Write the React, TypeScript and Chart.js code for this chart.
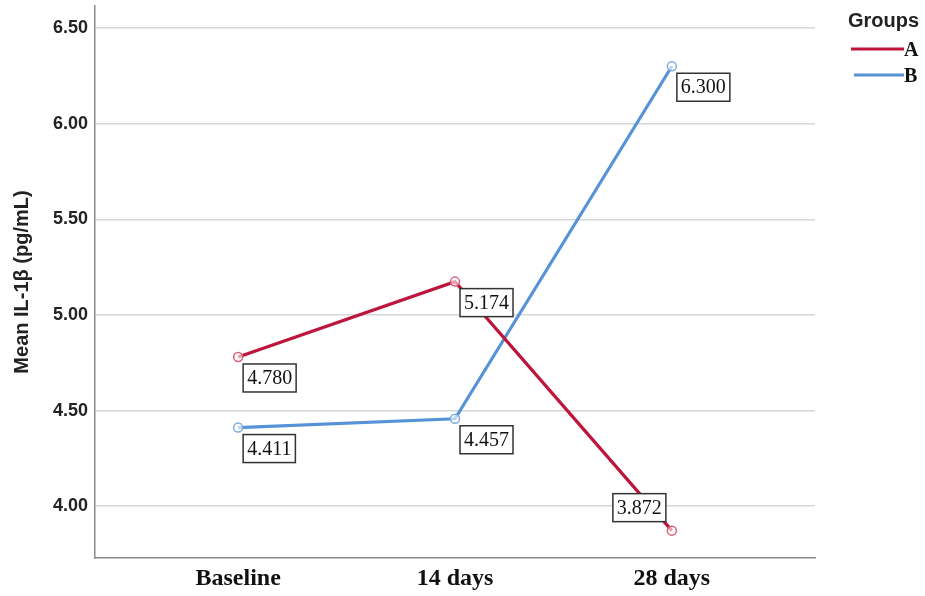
import React, { useEffect, useRef } from "react";
import { Chart, registerables } from "chart.js";

Chart.register(...registerables);

const categories = ["Baseline", "14 days", "28 days"];
const groupA = [4.78, 5.174, 3.872];
const groupB = [4.411, 4.457, 6.3];
const yTicks = [4.0, 4.5, 5.0, 5.5, 6.0, 6.5];
const seriesNames = ["A", "B"];
const labelPlaceA = ["br", "br", "tl"];
const labelPlaceB = ["br", "br", "br"];

const RED = "#BE153C";
const BLUE = "#5592D6";

const dataLabelPlugin = {
  id: "dataLabels",
  afterDatasetsDraw(chart: any) {
    const ctx = chart.ctx;
    ctx.save();
    ctx.font = "20px 'Liberation Serif', 'Times New Roman', serif";
    ctx.textBaseline = "middle";
    ctx.textAlign = "center";
    chart.data.datasets.forEach((ds: any, di: number) => {
      const meta = chart.getDatasetMeta(di);
      meta.data.forEach((pt: any, i: number) => {
        const txt = Number(ds.rawValues[i]).toFixed(3);
        const w = ctx.measureText(txt).width + 8;
        const h = 28;
        const place = ds.labelPlace[i];
        let left: number, top: number;
        if (place === "tl") {
          left = pt.x - 6 - w;
          top = pt.y - 9 - h;
        } else {
          left = pt.x + 5;
          top = pt.y + 7;
        }
        ctx.fillStyle = "#ffffff";
        ctx.fillRect(left, top, w, h);
        ctx.strokeStyle = "#333333";
        ctx.lineWidth = 1.5;
        ctx.strokeRect(left, top, w, h);
        ctx.fillStyle = "#111111";
        ctx.fillText(txt, left + w / 2, top + h / 2 + 1);
      });
    });
    ctx.restore();
  },
};

const legendPlugin = {
  id: "customLegend",
  afterDraw(chart: any) {
    const ctx = chart.ctx;
    ctx.save();
    ctx.fillStyle = "#222222";
    ctx.textBaseline = "alphabetic";
    ctx.textAlign = "left";
    ctx.font = "bold 20px 'Liberation Sans', Arial, sans-serif";
    ctx.fillText("Groups", 848, 27);
    const colors = [RED, BLUE];
    seriesNames.forEach((name, i) => {
      const y = 49 + i * 26;
      ctx.strokeStyle = colors[i];
      ctx.lineWidth = 3;
      ctx.beginPath();
      ctx.moveTo(i === 0 ? 851 : 854, y);
      ctx.lineTo(904, y);
      ctx.stroke();
      ctx.fillStyle = "#111111";
      ctx.font = "bold 20px 'Liberation Serif', 'Times New Roman', serif";
      ctx.fillText(name, 904, y + 7);
    });
    ctx.restore();
  },
};

function makeDataset(name: string, values: number[], place: string[], color: string, pointColor: string) {
  return {
    label: name,
    data: values.map((v, i) => ({ x: i, y: v })),
    rawValues: values,
    labelPlace: place,
    borderColor: color,
    borderWidth: 3.2,
    pointRadius: 4.5,
    pointBorderWidth: 1.5,
    pointBorderColor: pointColor,
    pointBackgroundColor: "rgba(255,255,255,0.6)",
  };
}

export default function App() {
  const ref = useRef<HTMLCanvasElement>(null);
  useEffect(() => {
    document.body.style.margin = "0";
    const chart = new Chart(ref.current!, {
      type: "line",
      data: {
        datasets: [
          makeDataset(seriesNames[0], groupA, labelPlaceA, RED, "#D9607A"),
          makeDataset(seriesNames[1], groupB, labelPlaceB, BLUE, "#7FAEE0"),
        ],
      },
      options: {
        animation: false,
        responsive: false,
        layout: { padding: { left: 0, right: 110, top: 0, bottom: 0 } },
        plugins: { legend: { display: false }, tooltip: { enabled: false } },
        scales: {
          x: {
            type: "linear",
            min: -0.66,
            max: 2.66,
            afterBuildTicks: (s: any) => {
              s.ticks = categories.map((_, i) => ({ value: i }));
            },
            afterFit: (s: any) => {
              s.height = 38;
              s.paddingLeft = 0;
              s.paddingRight = 0;
            },
            ticks: {
              callback: (v: any) => categories[v] ?? "",
              color: "#111111",
              padding: 6,
              maxRotation: 0,
              font: { family: "'Liberation Serif', 'Times New Roman', serif", size: 24, weight: "bold" },
            },
            grid: { display: false, drawTicks: false },
            border: { display: true, color: "#8a8a8a", width: 1.5 },
          },
          y: {
            type: "linear",
            min: 3.729,
            max: 6.615,
            afterBuildTicks: (s: any) => {
              s.ticks = yTicks.map((v) => ({ value: v }));
            },
            afterFit: (s: any) => {
              s.width = 95;
              s.paddingTop = 0;
              s.paddingBottom = 0;
            },
            ticks: {
              callback: (v: any) => Number(v).toFixed(2),
              color: "#222222",
              padding: 7,
              font: { family: "'Liberation Sans', Arial, sans-serif", size: 18, weight: "bold" },
            },
            grid: { color: "#d6d6d6", lineWidth: 1.5, drawTicks: false },
            border: { display: true, color: "#8a8a8a", width: 1.5 },
            title: {
              display: true,
              text: "Mean IL-1β (pg/mL)",
              color: "#222222",
              padding: { top: 10, bottom: 0 },
              font: { family: "'Liberation Sans', Arial, sans-serif", size: 20, weight: "bold" },
            },
          },
        },
      },
      plugins: [dataLabelPlugin, legendPlugin],
    } as any);
    return () => chart.destroy();
  }, []);
  return <canvas ref={ref} width={925} height={596} style={{ display: "block" }} />;
}
